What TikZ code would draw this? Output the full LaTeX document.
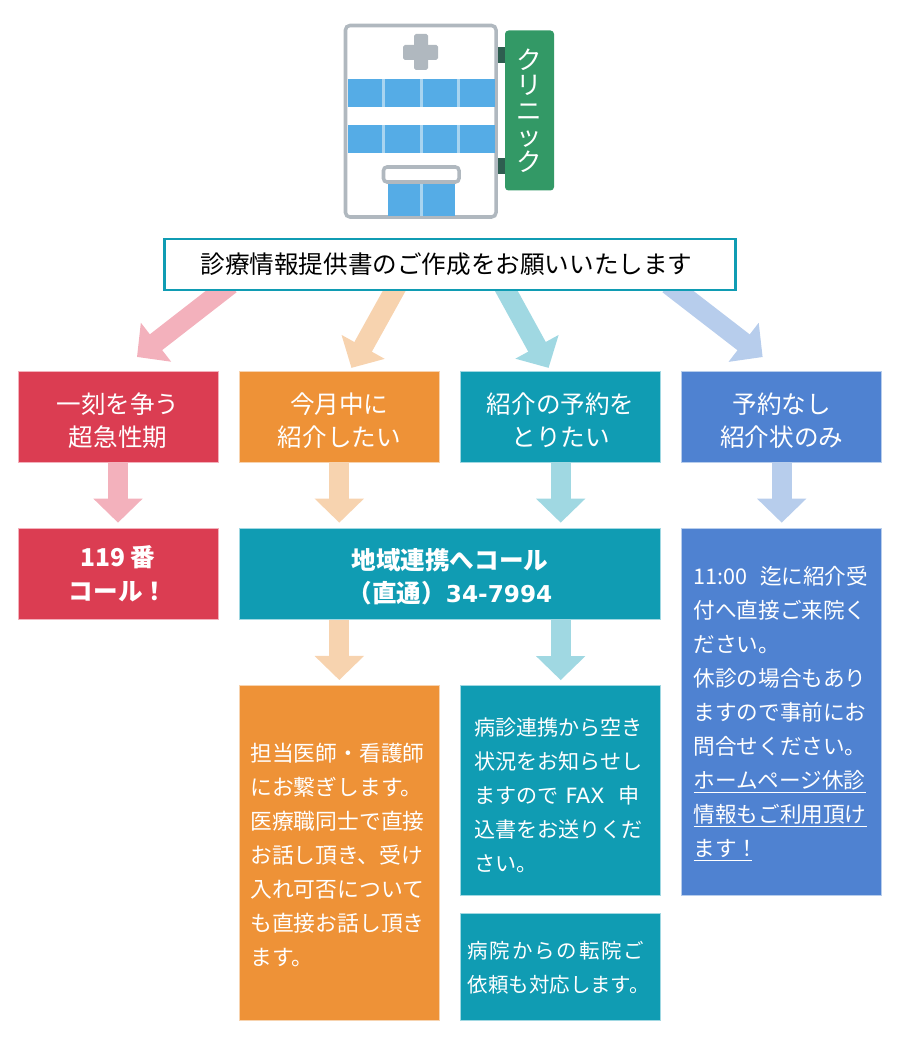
\documentclass[tikz,border=0pt]{standalone}
\usepackage{fontspec}
\usepackage{xcolor}
\setmainfont{Noto Sans CJK JP}
\newfontfamily\widefont{DejaVu Sans}
\usetikzlibrary{arrows.meta,backgrounds,calc}

\definecolor{redbox}{HTML}{DB3D52}
\definecolor{orangebox}{HTML}{EE9237}
\definecolor{tealbox}{HTML}{109CB3}
\definecolor{bluebox}{HTML}{4F82D1}
\definecolor{redline}{HTML}{F3B1BC}
\definecolor{orangeline}{HTML}{F7D3AF}
\definecolor{tealline}{HTML}{A0D8E2}
\definecolor{blueline}{HTML}{B7CDEC}
\definecolor{wallgray}{HTML}{B0B8BF}
\definecolor{glassblue}{HTML}{55ACE6}
\definecolor{glasslight}{HTML}{A8D4F0}
\definecolor{signgreen}{HTML}{339966}
\definecolor{signdark}{HTML}{2E5E50}

\def\px{0.02cm}
\newcommand{\toppad}[1]{\rule{0pt}{#1}}
\setlength{\normallineskiplimit}{-10pt}
\setlength{\lineskiplimit}{-10pt}

\begin{document}
\begin{tikzpicture}[x=0.02cm,y=-0.02cm,
	panel/.style={rectangle, inner sep=0, outer sep=0, line width=0.4pt, text=white, align=center, minimum width=200*\px},
	headtext/.style={font=\fontsize{14}{18.8}\selectfont},
	boldtext/.style={font=\fontsize{14}{19}\selectfont\bfseries},
	bodytext/.style={font=\fontsize{#1}{19.35}\selectfont, align=left},
	flow/.style={line width=11.4pt, -{Triangle[length=13.7pt,width=27.3pt]}, shorten >=3.2pt}]
	\useasboundingbox (0,0) rectangle (900,1037);

	% building
	\draw[wallgray, fill=white, line width=2pt, rounded corners=2.5pt] (345.5,25.5) rectangle (496,217);
	\fill[wallgray, rounded corners=1pt] (414,34) rectangle (428,70);
	\fill[wallgray, rounded corners=1pt] (403,45) rectangle (438,60);
	\fill[glassblue] (347.5,79.5) rectangle (494.5,107);
	\fill[glassblue] (347.5,125.5) rectangle (494.5,153.5);
	\fill[glassblue] (387.5,182) rectangle (454.5,215.5);
	\foreach \winx in {383.5,421,458.5}{
		\draw[glasslight, line width=1.7pt] (\winx,79.5) -- (\winx,107);
		\draw[glasslight, line width=1.7pt] (\winx,125.5) -- (\winx,153.5);
	}
	\draw[glasslight, line width=1.7pt] (421,182) -- (421,215.5);
	\draw[wallgray, fill=white, line width=2pt, rounded corners=2pt] (383.5,167) rectangle (459,182);
	\fill[signdark] (497.5,47.5) rectangle (505,63.5);
	\fill[signdark] (497.5,158.5) rectangle (505,174);
	\node[rectangle, rounded corners=2pt, fill=signgreen, text=white, inner sep=0, minimum width=49*\px, minimum height=160*\px, align=center, font=\fontsize{14.5}{14.5}\selectfont] (sign) at (529.5,110.5) {ク\\リ\\ニ\\ッ\\ク};

	% top box
	\node[rectangle, draw=tealbox, fill=white, line width=1.3pt, inner sep=0, minimum width=571*\px, minimum height=51*\px, font=\fontsize{14}{18}\selectfont] (request) at (450,264.5) {\hspace*{-4pt}診療情報提供書のご作成をお願いいたします};

	% first row
	\node[panel, headtext, fill=redbox, draw=redline, minimum height=90.5*\px] (acute) at (118,417) {\toppad{16pt}一刻を争う\\超急性期};
	\node[panel, headtext, fill=orangebox, draw=orangeline, minimum height=90.5*\px] (month) at (339.3,417) {\toppad{16pt}今月中に\\紹介したい};
	\node[panel, headtext, fill=tealbox, draw=tealline, minimum height=90.5*\px] (booking) at (560.7,417) {\toppad{16pt}紹介の予約を\\とりたい};
	\node[panel, headtext, fill=bluebox, draw=blueline, minimum height=90.5*\px] (letter) at (781.7,417) {\toppad{16pt}予約なし\\紹介状のみ};

	% second row
	\node[panel, boldtext, fill=redbox, draw=redline, minimum height=91*\px] (call) at (118,573.8) {119 番\\コール！};
	\node[panel, boldtext, fill=tealbox, draw=tealline, minimum width=421.7*\px, minimum height=91*\px] (liaison) at (449.9,573.8) {\toppad{15.2pt}地域連携へコール\\（直通）{\widefont\fontsize{13.2}{19}\selectfont 34-7994}};
	\node[panel, bodytext=12.3, fill=bluebox, draw=blueline, minimum height=367*\px, inner xsep=12*\px, text width=176*\px] (visit) at (781.7,711.8) {\toppad{12.5pt}11:00\hspace{3pt} 迄に紹介受\\付へ直接ご来院く\\ださい。\\休診の場合もあり\\ますので事前にお\\問合せください。\\\underline{ホームページ休診}\\\underline{情報もご利用頂け}\\\underline{ます！\hspace{-4pt}}};

	% third row
	\node[panel, bodytext=12.4, fill=orangebox, draw=orangeline, minimum height=334.3*\px, inner xsep=11*\px, text width=178*\px] (doctor) at (339.3,852.8) {\toppad{12.5pt}担当医師・看護師\\にお繋ぎします。\\医療職同士で直接\\お話し頂き、受け\\入れ可否について\\も直接お話し頂き\\ます。};
	\node[panel, bodytext=12, fill=tealbox, draw=tealline, minimum height=209.3*\px, inner xsep=13.5*\px, text width=173*\px] (fax) at (560.7,790.4) {\toppad{16pt}病診連携から空き\\状況をお知らせし\\ますので {\widefont FAX} \hspace{4pt}申\\込書をお送りくだ\\さい。};
	\node[panel, bodytext=11.65, fill=tealbox, draw=tealline, minimum height=106.7*\px, inner xsep=7*\px, text width=186*\px] (transfer) at (560.7,966.7) {\toppad{11.4pt}{\addfontfeature{LetterSpace=9}病院からの転院ご}\\依頼も対応します。};

	% arrows
	\coordinate (fromred) at (230.4,284.4);
	\coordinate (fromorange) at (398,284);
	\coordinate (fromteal) at (502.5,284);
	\coordinate (fromblue) at (668.6,284.4);
	\begin{scope}[on background layer]
		\draw[flow, redline, shorten >=13.7pt] (fromred) -- (acute.north);
		\draw[flow, orangeline, shorten >=2.5pt] (fromorange) -- ($(month.north)+(10,0)$);
		\draw[flow, tealline, shorten >=2.5pt] (fromteal) -- ($(booking.north)+(-10,0)$);
		\draw[flow, blueline, shorten >=13.7pt] (fromblue) -- (letter.north);

		\draw[flow, redline] (acute.south) -- (call.north);
		\draw[flow, orangeline] (month.south) -- (month.south |- liaison.north);
		\draw[flow, tealline] (booking.south) -- (booking.south |- liaison.north);
		\draw[flow, blueline] (letter.south) -- (visit.north);

		\draw[flow, orangeline] (doctor.north |- liaison.south) -- (doctor.north);
		\draw[flow, tealline] (fax.north |- liaison.south) -- (fax.north);
	\end{scope}
\end{tikzpicture}
\end{document}
